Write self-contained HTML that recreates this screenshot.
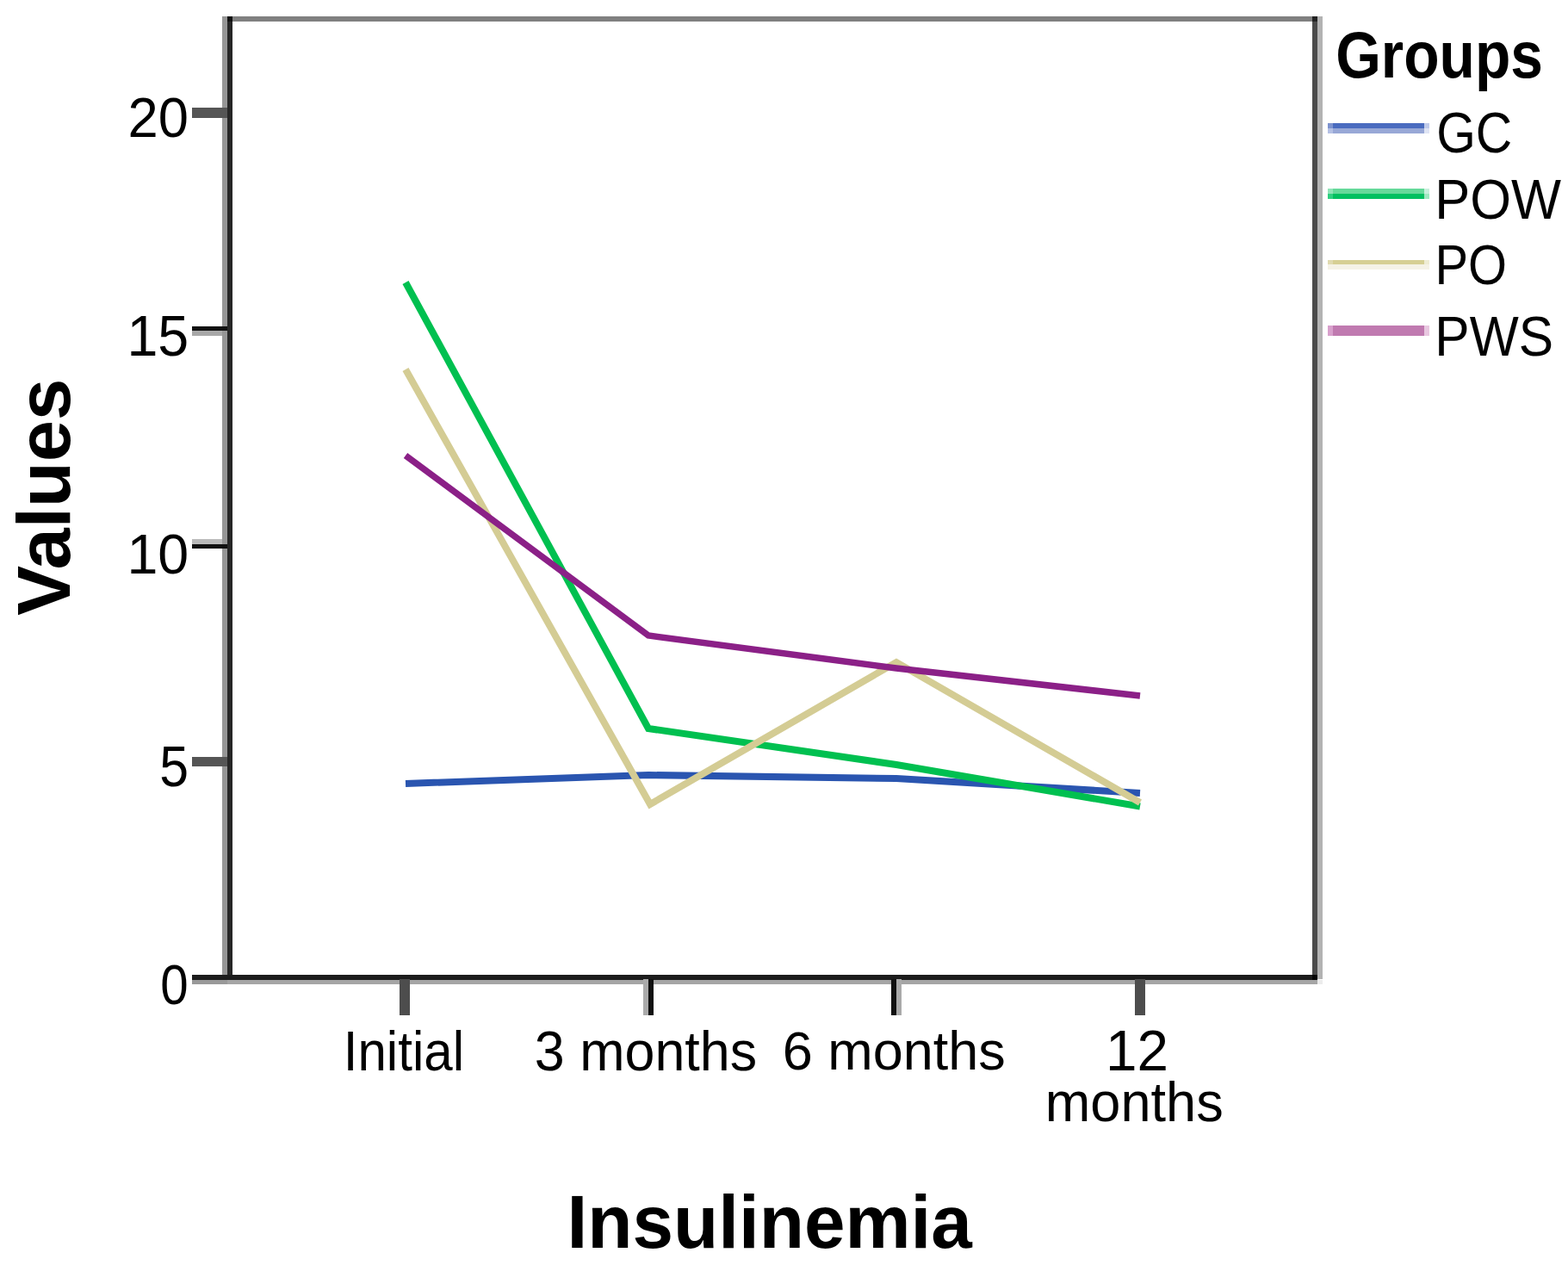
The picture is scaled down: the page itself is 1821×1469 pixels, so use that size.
<!DOCTYPE html>
<html>
<head>
<meta charset="utf-8">
<style>
html,body{margin:0;padding:0;background:#fff;}
body{width:1821px;height:1469px;overflow:hidden;position:relative;}
svg{position:absolute;left:0;top:0;display:block;}
.t{font-family:"Liberation Sans",Arial,sans-serif;fill:#000;}
.b{font-family:"Liberation Sans",Arial,sans-serif;font-weight:bold;fill:#000;}
</style>
</head>
<body>
<svg width="1821" height="1469" viewBox="0 0 1821 1469">
  <!-- frame -->
  <g id="frame" shape-rendering="crispEdges">
    <rect x="264" y="19.4" width="1266" height="5.4" fill="#808080"/>
    <rect x="258" y="19.4" width="6" height="1118" fill="#969696"/>
    <rect x="264" y="19.4" width="6" height="1118" fill="#262626"/>
    <rect x="1524" y="19.4" width="6" height="1118" fill="#4a4a4a"/>
    <rect x="1530" y="19.4" width="6" height="1118" fill="#b3b3b3"/>
    <rect x="1524" y="19.4" width="6" height="5.4" fill="#222"/>
    <rect x="264" y="19.4" width="6" height="5.4" fill="#111"/>
    <rect x="258" y="1132" width="1272" height="5.7" fill="#1c1c1c"/>
    <rect x="258" y="1137.7" width="1272" height="5.7" fill="#a5a5a5"/>
    <rect x="1524" y="1132" width="6" height="5.7" fill="#050505"/>
    <rect x="1530" y="1137.7" width="6" height="5.7" fill="#ececec"/>
    <!-- y ticks -->
    <rect x="223" y="125.3" width="41" height="11.4" fill="#555"/>
    <rect x="223" y="378.7" width="41" height="5" fill="#111"/>
    <rect x="223" y="383.7" width="35" height="5.9" fill="#a8a8a8"/>
    <rect x="223" y="625.9" width="35" height="5.9" fill="#bbb"/>
    <rect x="223" y="631.8" width="41" height="4.9" fill="#111"/>
    <rect x="223" y="879" width="41" height="11.4" fill="#555"/>
    <rect x="223" y="1132" width="41" height="5.7" fill="#1c1c1c"/>
    <rect x="223" y="1137.7" width="41" height="5.7" fill="#999"/>
    <!-- x ticks -->
    <rect x="464.2" y="1137" width="12" height="41.5" fill="#4d4d4d"/>
    <rect x="747" y="1137" width="6" height="41.5" fill="#aaa"/>
    <rect x="753" y="1137" width="6" height="41.5" fill="#111"/>
    <rect x="1035.3" y="1137" width="6" height="41.5" fill="#111"/>
    <rect x="1041.3" y="1137" width="6" height="41.5" fill="#aaa"/>
    <rect x="1318.2" y="1137" width="11.4" height="41.5" fill="#4d4d4d"/>
  </g>
  <!-- data lines -->
  <g fill="none" stroke-linejoin="miter" stroke-linecap="butt">
    <polyline id="gc" points="471,910 753,900 1041,904 1324,921" stroke="#2a55b0" stroke-width="8"/>
    <polyline id="pow" points="471,328 753,846 1041,888 1324,936.5" stroke="#00c050" stroke-width="8"/>
    <polyline id="po" points="471,429 755,934 1041,769 1324,932" stroke="#d4cc94" stroke-width="8"/>
    <polyline id="pws" points="471,529 753,738 1041,776 1324,808" stroke="#8b2087" stroke-width="7.5"/>
  </g>
  <!-- legend lines -->
  <g shape-rendering="crispEdges">
    <rect x="1542" y="143" width="6" height="6" fill="#7d93cf"/>
    <rect x="1548" y="143" width="106" height="6" fill="#4a6bbf"/>
    <rect x="1654" y="143" width="6" height="6" fill="#c0cbea"/>
    <rect x="1542" y="149" width="6" height="5.7" fill="#b4c0e4"/>
    <rect x="1548" y="149" width="106" height="5.7" fill="#98a8d6"/>
    <rect x="1654" y="149" width="6" height="5.7" fill="#dfe4f4"/>
    <rect x="1542" y="219.4" width="6" height="5.7" fill="#90e4b8"/>
    <rect x="1548" y="219.4" width="106" height="5.7" fill="#66d99a"/>
    <rect x="1654" y="219.4" width="6" height="5.7" fill="#c8f0dc"/>
    <rect x="1542" y="225.1" width="6" height="5.8" fill="#30d080"/>
    <rect x="1548" y="225.1" width="106" height="5.8" fill="#00c060"/>
    <rect x="1654" y="225.1" width="6" height="5.8" fill="#a0e8c0"/>
    <rect x="1542" y="301.7" width="6" height="5.7" fill="#e0dab0"/>
    <rect x="1548" y="301.7" width="106" height="5.7" fill="#d6cf94"/>
    <rect x="1654" y="301.7" width="6" height="5.7" fill="#efecd4"/>
    <rect x="1542" y="307.4" width="118" height="5.6" fill="#f5f2e6"/>
    <rect x="1542" y="378.3" width="6" height="11.7" fill="#d8a0cc"/>
    <rect x="1548" y="378.3" width="106" height="11.7" fill="#c07ab0"/>
    <rect x="1654" y="378.3" width="6" height="11.7" fill="#e8c8e0"/>
  </g>
  <!-- text -->
  <g id="texts">
    <text class="t" font-size="65" transform="translate(148.48,159.01) scale(0.9746,0.9936)">20</text>
    <text class="t" font-size="65" transform="translate(147.43,412.57) scale(0.9938,1.0261)">15</text>
    <text class="t" font-size="65" transform="translate(147.43,665.80) scale(0.9938,1.0000)">10</text>
    <text class="t" font-size="65" transform="translate(185.19,912.69) scale(0.9355,1.0130)">5</text>
    <text class="t" font-size="65" transform="translate(186.21,1165.71) scale(0.8969,0.9894)">0</text>
    <text class="t" font-size="65" transform="translate(398.75,1243.19) scale(0.9246,1.0104)">Initial</text>
    <text class="t" font-size="65" transform="translate(620.77,1243.19) scale(0.9665,1.0104)">3 months</text>
    <text class="t" font-size="65" transform="translate(908.80,1242.03) scale(0.9683,0.9729)">6 months</text>
    <text class="t" font-size="65" transform="translate(1283.95,1243.00) scale(1.0094,1.0217)">12</text>
    <text class="t" font-size="65" transform="translate(1213.71,1302.01) scale(0.9715,0.9938)">months</text>
    <text class="b" font-size="74" transform="translate(1551.15,89.6) scale(0.9156,1.02)">Groups</text>
    <text class="t" font-size="65" transform="translate(1668.19,177.19) scale(0.9033,1.0128)">GC</text>
    <text class="t" font-size="65" transform="translate(1666.27,253.80) scale(0.9453,1.0000)">POW</text>
    <text class="t" font-size="65" transform="translate(1666.55,329.71) scale(0.8895,0.9851)">PO</text>
    <text class="t" font-size="65" transform="translate(1666.35,412.60) scale(0.9300,0.9979)">PWS</text>
    <text class="b" font-size="90" transform="translate(80.73,714.66) rotate(-90) scale(0.9637,0.9657)">Values</text>
    <text class="b" font-size="90" transform="translate(658.60,1449.03) scale(0.9498,0.9687)">Insulinemia</text>
  </g>
</svg>
</body>
</html>
